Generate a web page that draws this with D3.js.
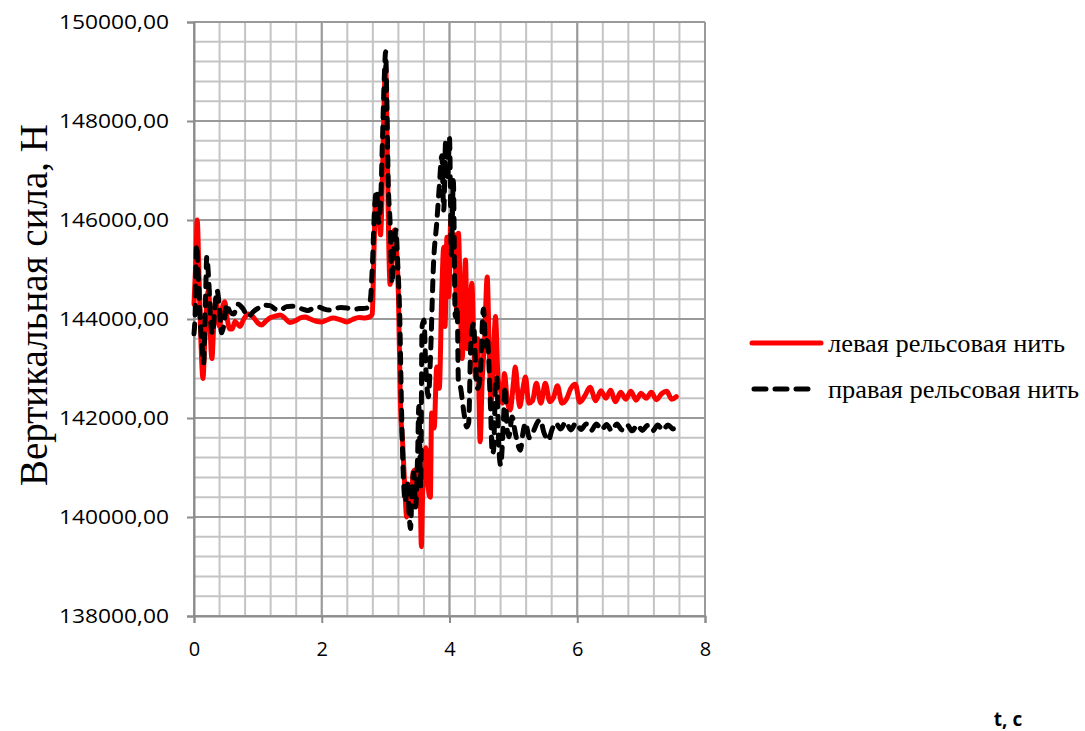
<!DOCTYPE html>
<html>
<head>
<meta charset="utf-8">
<script src="https://cdn.jsdelivr.net/npm/d3@7"></script>
<style>
  html, body { margin: 0; padding: 0; background: #fff; }
  svg { display: block; }
</style>
</head>
<body>
<div id="chart"></div>
<script>
// Chart data
const seriesNames = ['левая рельсовая нить', 'правая рельсовая нить'];
const yTicks = [138000, 140000, 142000, 144000, 146000, 148000, 150000];
const xTicks = [0, 2, 4, 6, 8];

// left rail (red, solid)
const leftT = [0.00,0.03,0.05,0.08,0.11,0.14,0.17,0.20,0.23,0.25,0.28,0.31,0.34,0.37,0.40,0.44,0.48,0.52,0.56,0.60,
  0.64,0.68,0.72,0.78,0.85,0.92,1.00,1.06,1.12,1.20,1.28,1.35,1.42,1.50,1.58,1.66,1.74,1.82,1.90,2.00,
  2.08,2.18,2.28,2.39,2.48,2.58,2.68,2.76,2.79,2.82,2.85,2.89,2.92,2.95,2.98,3.00,3.02,3.04,3.07,3.10,
  3.14,3.17,3.20,3.23,3.27,3.30,3.33,3.36,3.40,3.43,3.46,3.49,3.52,3.54,3.56,3.58,3.60,3.63,3.65,3.68,
  3.70,3.72,3.76,3.80,3.84,3.88,3.91,3.93,3.96,3.99,4.02,4.05,4.08,4.11,4.14,4.17,4.20,4.23,4.25,4.28,
  4.31,4.35,4.38,4.41,4.44,4.48,4.51,4.55,4.59,4.62,4.65,4.69,4.72,4.76,4.80,4.83,4.86,4.90,4.95,5.00,
  5.03,5.07,5.10,5.15,5.19,5.24,5.30,5.36,5.43,5.50,5.57,5.63,5.69,5.76,5.83,5.90,5.97,6.04,6.12,6.20,
  6.29,6.37,6.45,6.52,6.60,6.68,6.76,6.84,6.92,7.00,7.08,7.16,7.24,7.32,7.40,7.48,7.55];
const leftV = [144300,145200,146000,144800,143500,142800,143600,144300,144600,143900,143200,143900,144400,144100,143850,144200,144350,144000,143800,143800,
  143950,143900,143850,144000,144100,144050,143920,143880,143950,144030,144060,144080,144020,143930,143960,144020,144040,144000,143960,143940,
  143980,144020,143990,143940,143990,144030,144020,144050,144100,145500,146500,146300,145700,146800,148600,149100,148000,146200,144700,145200,
  145800,145400,144500,142400,141400,140600,140000,140400,140200,140900,140950,140300,141000,140600,139400,140500,140750,141400,141000,140450,
  140400,142100,141800,143030,142600,144580,145450,143850,145650,144450,146000,145200,145700,144200,145730,144300,143200,144600,145190,143400,
  143800,144720,143500,142800,143600,141520,142700,143600,144850,143500,142300,143300,144050,142800,142560,142300,142900,142400,142160,142700,
  143030,142500,142230,142600,142830,142300,142350,142700,142300,142700,142330,142420,142650,142300,142380,142600,142680,142320,142450,142620,
  142350,142550,142400,142560,142330,142520,142380,142540,142360,142500,142400,142520,142370,142490,142540,142380,142430];

// right rail (black, dashed)
const rightT = [0.00,0.02,0.04,0.07,0.10,0.13,0.15,0.18,0.20,0.23,0.26,0.29,0.32,0.36,0.40,0.43,0.47,0.51,0.56,0.62,
  0.69,0.76,0.85,0.93,1.02,1.10,1.19,1.27,1.35,1.45,1.53,1.61,1.70,1.78,1.87,1.96,2.04,2.12,2.20,2.30,
  2.40,2.50,2.60,2.70,2.76,2.79,2.83,2.86,2.89,2.92,2.95,2.98,3.00,3.02,3.04,3.07,3.10,3.13,3.16,3.19,
  3.22,3.25,3.28,3.31,3.34,3.37,3.39,3.41,3.44,3.47,3.50,3.52,3.55,3.57,3.60,3.63,3.67,3.70,3.75,3.80,
  3.84,3.88,3.91,3.94,3.97,4.00,4.03,4.06,4.09,4.12,4.14,4.17,4.22,4.27,4.30,4.33,4.36,4.38,4.40,4.44,
  4.48,4.53,4.57,4.59,4.64,4.67,4.69,4.72,4.74,4.77,4.80,4.85,4.87,4.90,4.93,4.98,5.03,5.11,5.15,5.19,
  5.25,5.32,5.37,5.42,5.48,5.55,5.60,5.66,5.74,5.82,5.90,5.98,6.06,6.14,6.22,6.30,6.38,6.46,6.54,6.62,
  6.70,6.78,6.86,6.94,7.02,7.10,7.18,7.26,7.34,7.42,7.50,7.56];
const rightV = [143700,144200,145500,144800,143900,143400,143100,144400,145250,144800,144000,143700,144100,144580,144200,143720,143900,144300,144150,144100,
  144300,144220,144050,144150,144230,144280,144270,144200,144180,144250,144260,144240,144200,144170,144220,144240,144200,144180,144210,144230,
  144220,144200,144210,144220,144380,145000,146300,146600,145950,146300,147600,148900,149400,148300,146800,145940,144720,145400,145800,145100,
  144100,142100,140740,140300,140700,140000,139770,140400,140890,140200,141200,142230,140610,143840,143980,143000,142430,143160,145120,145940,
  146670,147300,146200,147600,146800,147650,145300,146800,144050,144250,142700,142630,142160,141820,141900,143370,143840,143910,143300,142600,
  142830,144200,143440,143640,142300,141280,141350,142630,142830,141500,141050,142090,142630,141800,141620,142020,141700,141350,141700,141900,
  141600,141750,141900,141960,141700,141550,141750,141900,141780,141920,141760,141900,141770,141880,141750,141880,141760,141870,141740,141880,
  141760,141860,141740,141860,141750,141850,141740,141860,141750,141860,141780,141830];

//////////////////////////////////////////////////////////////////////
// Layout
//////////////////////////////////////////////////////////////////////
const W = 1085, H = 731;
const plot = {left: 194, right: 705, top: 22, bottom: 616};

const svg = d3.select('#chart')
  .append('svg')
  .attr('width', W)
  .attr('height', H);

const x = d3.scaleLinear().domain([0, 8]).range([plot.left, plot.right]);
const y = d3.scaleLinear().domain([138000, 150000]).range([plot.bottom, plot.top]);

// Minor gridlines
const xMinor = d3.range(0, 8.0001, 0.4);
const yMinor = d3.range(138000, 150001, 400);

svg.append('g').selectAll('line')
  .data(xMinor)
  .join('line')
  .attr('x1', d => x(d)).attr('x2', d => x(d))
  .attr('y1', plot.top).attr('y2', plot.bottom)
  .attr('stroke', '#c4c4c4').attr('stroke-width', 2);

svg.append('g').selectAll('line')
  .data(yMinor)
  .join('line')
  .attr('x1', plot.left).attr('x2', plot.right)
  .attr('y1', d => y(d)).attr('y2', d => y(d))
  .attr('stroke', '#c4c4c4').attr('stroke-width', 2);

// Major gridlines
svg.append('g').selectAll('line')
  .data(xTicks)
  .join('line')
  .attr('x1', d => x(d)).attr('x2', d => x(d))
  .attr('y1', plot.top).attr('y2', plot.bottom)
  .attr('stroke', '#9a9a9a').attr('stroke-width', 2);

svg.append('g').selectAll('line')
  .data(yTicks)
  .join('line')
  .attr('x1', plot.left).attr('x2', plot.right)
  .attr('y1', d => y(d)).attr('y2', d => y(d))
  .attr('stroke', '#9a9a9a').attr('stroke-width', 2);

// Axes
const fmt = d => d3.format('.2f')(d).replace('.', ',');

svg.append('g')
  .attr('transform', `translate(${plot.left},0)`)
  .call(d3.axisLeft(y).tickValues(yTicks).tickFormat(fmt).tickSize(7).tickPadding(18))
  .call(g => g.selectAll('path, line').attr('stroke', '#8c8c8c').attr('stroke-width', 2))
  .call(g => g.selectAll('text')
    .attr('fill', '#000')
    .style('font-family', '"Open Sans", sans-serif')
    .style('font-size', '20px')
    .attr('textLength', 110)
    .attr('lengthAdjust', 'spacingAndGlyphs'));

svg.append('g')
  .attr('transform', `translate(0,${plot.bottom})`)
  .call(d3.axisBottom(x).tickValues(xTicks).tickFormat(d3.format('d')).tickSize(7).tickPadding(19))
  .call(g => g.selectAll('path, line').attr('stroke', '#8c8c8c').attr('stroke-width', 2))
  .call(g => g.selectAll('text')
    .attr('fill', '#000')
    .style('font-family', '"Open Sans", sans-serif')
    .style('font-size', '20px'));

// Axis titles
svg.append('text')
  .attr('transform', 'translate(47,305) rotate(-90)')
  .attr('text-anchor', 'middle')
  .style('font-family', '"Liberation Serif", "Times New Roman", serif')
  .style('font-size', '39px')
  .text('Вертикальная сила, Н');

svg.append('text')
  .attr('x', 1008)
  .attr('y', 726)
  .attr('text-anchor', 'middle')
  .style('font-family', '"Open Sans", sans-serif')
  .style('font-size', '19px')
  .style('font-weight', 'bold')
  .text('t, c');

//////////////////////////////////////////////////////////////////////
// Series
//////////////////////////////////////////////////////////////////////
const leftData = leftT.map((t, i) => ({t, v: leftV[i]}));
const rightData = rightT.map((t, i) => ({t, v: rightV[i]}));

const line = d3.line()
  .x(d => x(d.t))
  .y(d => y(d.v))
  .curve(d3.curveMonotoneX);

svg.append('path')
  .datum(leftData)
  .attr('d', line)
  .attr('fill', 'none')
  .attr('stroke', '#ff0000')
  .attr('stroke-width', 5)
  .attr('stroke-linejoin', 'round')
  .attr('stroke-linecap', 'round');

svg.append('path')
  .datum(rightData)
  .attr('d', line)
  .attr('fill', 'none')
  .attr('stroke', '#000')
  .attr('stroke-width', 5)
  .attr('stroke-dasharray', '10,9')
  .attr('stroke-linejoin', 'round')
  .attr('stroke-linecap', 'round');

//////////////////////////////////////////////////////////////////////
// Legend
//////////////////////////////////////////////////////////////////////
const legendY = [343, 389];
const legendTextWidth = [237, 251];
const legend = svg.append('g');

legend.append('line')
  .attr('x1', 752).attr('x2', 821)
  .attr('y1', legendY[0]).attr('y2', legendY[0])
  .attr('stroke', '#ff0000').attr('stroke-width', 5)
  .attr('stroke-linecap', 'round');

legend.append('line')
  .attr('x1', 754).attr('x2', 815)
  .attr('y1', legendY[1]).attr('y2', legendY[1])
  .attr('stroke', '#000').attr('stroke-width', 5)
  .attr('stroke-dasharray', '12,9')
  .attr('stroke-linecap', 'round');

legend.selectAll('text')
  .data(seriesNames)
  .join('text')
  .attr('x', 828)
  .attr('y', (d, i) => legendY[i] + 9)
  .style('font-family', '"Liberation Serif", "Times New Roman", serif')
  .style('font-size', '25px')
  .attr('textLength', (d, i) => legendTextWidth[i])
  .attr('lengthAdjust', 'spacingAndGlyphs')
  .text(d => d);
</script>
</body>
</html>
